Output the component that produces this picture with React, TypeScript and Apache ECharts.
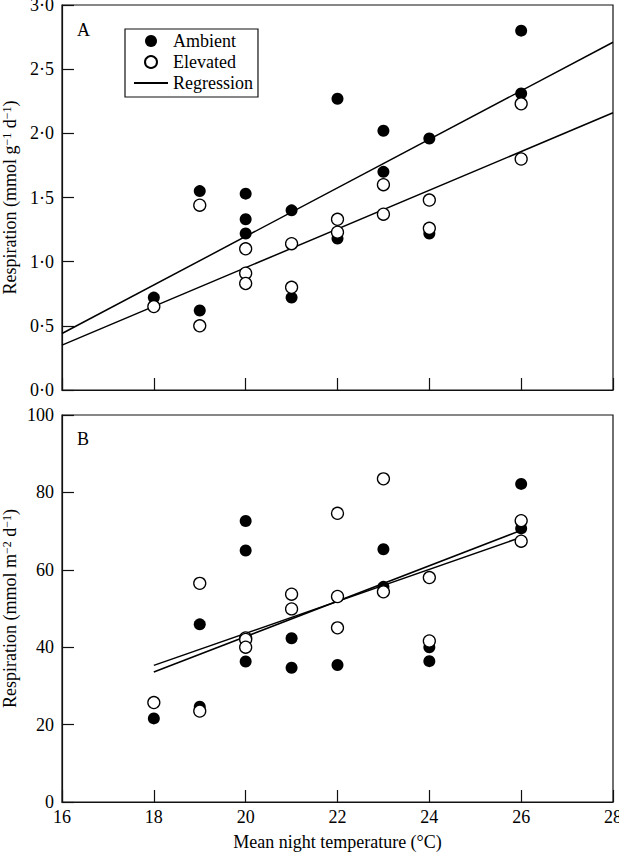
import React, { useEffect, useRef } from 'react';
import * as echarts from 'echarts';

// Mean night temperature ticks (°C)
const xMin = 16;
const xMax = 28;
const xStep = 2;

// Panel A: respiration (mmol g-1 d-1), [temperature, value]
const ambientA = [
  [18, 0.72], [19, 1.55], [19, 0.62], [20, 1.53], [20, 1.33], [20, 1.22],
  [21, 1.40], [21, 0.72], [22, 2.27], [22, 1.18], [23, 2.02], [23, 1.70],
  [24, 1.96], [24, 1.22], [26, 2.80], [26, 2.31],
];
const elevatedA = [
  [18, 0.65], [19, 1.44], [19, 0.50], [20, 1.10], [20, 0.91], [20, 0.83],
  [21, 1.14], [21, 0.80], [22, 1.33], [22, 1.23], [23, 1.60], [23, 1.37],
  [24, 1.48], [24, 1.26], [26, 2.23], [26, 1.80],
];
const regAmbientA = [[16, 0.44], [28, 2.71]];
const regElevatedA = [[16, 0.35], [28, 2.16]];

// Panel B: respiration (mmol m-2 d-1)
const ambientB = [
  [18, 21.6], [19, 45.9], [19, 24.6], [20, 72.6], [20, 65.0], [20, 36.3],
  [21, 42.3], [21, 34.7], [22, 53.0], [22, 35.4], [23, 65.3], [23, 55.6],
  [24, 40.0], [24, 36.4], [26, 82.2], [26, 70.7],
];
const elevatedB = [
  [18, 25.7], [19, 56.5], [19, 23.5], [20, 42.4], [20, 42.0], [20, 40.0],
  [21, 53.7], [21, 49.9], [22, 74.6], [22, 53.1], [22, 45.0], [23, 83.5],
  [23, 54.3], [24, 58.0], [24, 41.6], [26, 72.7], [26, 67.4],
];
const regAmbientB = [[18, 33.6], [26, 70.2]];
const regElevatedB = [[18, 35.3], [26, 68.4]];

const FONT = 'Liberation Serif';

export default function App() {
  const ref = useRef<HTMLDivElement>(null);
  useEffect(() => {
    if (!ref.current) return;
    const chart = echarts.init(ref.current, undefined, { renderer: 'svg' });
    const axisLine = { show: true, lineStyle: { color: '#111', width: 1.2 } };
    const axisTick = { show: true, inside: true, length: 12, lineStyle: { color: '#111', width: 1.2 } };
    const rich = {
      n: { fontSize: 18, fontFamily: FONT, color: '#000', lineHeight: 18 },
      s: { fontSize: 12, fontFamily: FONT, color: '#000', lineHeight: 12, verticalAlign: 'top' },
    };
    const filled = { color: '#000', opacity: 1 };
    const open = { color: '#fff', borderColor: '#000', borderWidth: 1.3, opacity: 1 };
    const regLine = { color: '#000', width: 1.5 };
    const gridBase = {
      left: 62, width: 551, show: true, borderColor: '#111', borderWidth: 1.2,
      backgroundColor: 'transparent', containLabel: false, outerBoundsMode: 'none',
    };
    chart.setOption({
      animation: false,
      textStyle: { fontFamily: FONT, color: '#000' },
      grid: [
        { ...gridBase, top: 5, height: 385 },
        { ...gridBase, top: 415, height: 387 },
      ],
      legend: {
        left: 125,
        top: 29,
        orient: 'vertical',
        data: [
          'Ambient',
          'Elevated',
          { name: 'Regression', itemStyle: { opacity: 0 } },
        ],
        selectedMode: false,
        borderColor: '#111',
        borderWidth: 1.2,
        padding: [3, 5, 5, 8],
        itemGap: 3,
        itemWidth: 34,
        itemHeight: 12,
        textStyle: { fontFamily: FONT, fontSize: 18, color: '#000', lineHeight: 18 },
      },
      graphic: [
        { type: 'text', left: 77, top: 21, style: { text: 'A', font: `18px "${FONT}"`, fill: '#000' } },
        { type: 'text', left: 77, top: 430, style: { text: 'B', font: `18px "${FONT}"`, fill: '#000' } },
      ],
      xAxis: [
        {
          gridIndex: 0, type: 'value', min: xMin, max: xMax, interval: xStep,
          axisLine, axisTick, splitLine: { show: false }, axisLabel: { show: false },
        },
        {
          gridIndex: 1, type: 'value', min: xMin, max: xMax, interval: xStep,
          axisLine, axisTick, splitLine: { show: false },
          axisLabel: { fontSize: 18, fontFamily: FONT, color: '#000', margin: 6 },
          name: 'Mean night temperature (°C)', nameLocation: 'middle', nameGap: 31,
          nameMoveOverlap: false,
          nameTextStyle: { fontSize: 18, fontFamily: FONT, color: '#000' },
        },
      ],
      yAxis: [
        {
          gridIndex: 0, type: 'value', min: 0, max: 3, interval: 0.5,
          axisLine, axisTick, splitLine: { show: false },
          axisLabel: {
            fontSize: 18, fontFamily: FONT, color: '#000', margin: 8,
            formatter: (v: number) => v.toFixed(1).replace('.', '·'),
          },
          name: '{n|Respiration (mmol g}{s|−1}{n| d}{s|−1}{n|)}',
          nameLocation: 'middle', nameGap: 43, nameMoveOverlap: false,
          nameTextStyle: { rich },
        },
        {
          gridIndex: 1, type: 'value', min: 0, max: 100, interval: 20,
          axisLine, axisTick, splitLine: { show: false },
          axisLabel: { fontSize: 18, fontFamily: FONT, color: '#000', margin: 8 },
          name: '{n|Respiration (mmol m}{s|−2}{n| d}{s|−1}{n|)}',
          nameLocation: 'middle', nameGap: 43, nameMoveOverlap: false,
          nameTextStyle: { rich },
        },
      ],
      series: [
        { name: 'Regression', type: 'line', xAxisIndex: 0, yAxisIndex: 0, data: regAmbientA, symbol: 'none', lineStyle: regLine, itemStyle: { color: '#000' }, z: 1 },
        { name: 'Regression', type: 'line', xAxisIndex: 0, yAxisIndex: 0, data: regElevatedA, symbol: 'none', lineStyle: regLine, itemStyle: { color: '#000' }, z: 1 },
        { name: 'Ambient', type: 'scatter', xAxisIndex: 0, yAxisIndex: 0, data: ambientA, symbol: 'circle', symbolSize: 12, itemStyle: filled, z: 2 },
        { name: 'Elevated', type: 'scatter', xAxisIndex: 0, yAxisIndex: 0, data: elevatedA, symbol: 'circle', symbolSize: 12, itemStyle: open, z: 3 },
        { name: 'Regression', type: 'line', xAxisIndex: 1, yAxisIndex: 1, data: regAmbientB, symbol: 'none', lineStyle: regLine, itemStyle: { color: '#000' }, z: 1 },
        { name: 'Regression', type: 'line', xAxisIndex: 1, yAxisIndex: 1, data: regElevatedB, symbol: 'none', lineStyle: regLine, itemStyle: { color: '#000' }, z: 1 },
        { name: 'Ambient', type: 'scatter', xAxisIndex: 1, yAxisIndex: 1, data: ambientB, symbol: 'circle', symbolSize: 12, itemStyle: filled, z: 2 },
        { name: 'Elevated', type: 'scatter', xAxisIndex: 1, yAxisIndex: 1, data: elevatedB, symbol: 'circle', symbolSize: 12, itemStyle: open, z: 3 },
      ],
    });
    return () => chart.dispose();
  }, []);
  return <div ref={ref} style={{ position: 'absolute', left: 0, top: 0, width: 619, height: 853, background: '#fff' }} />;
}
